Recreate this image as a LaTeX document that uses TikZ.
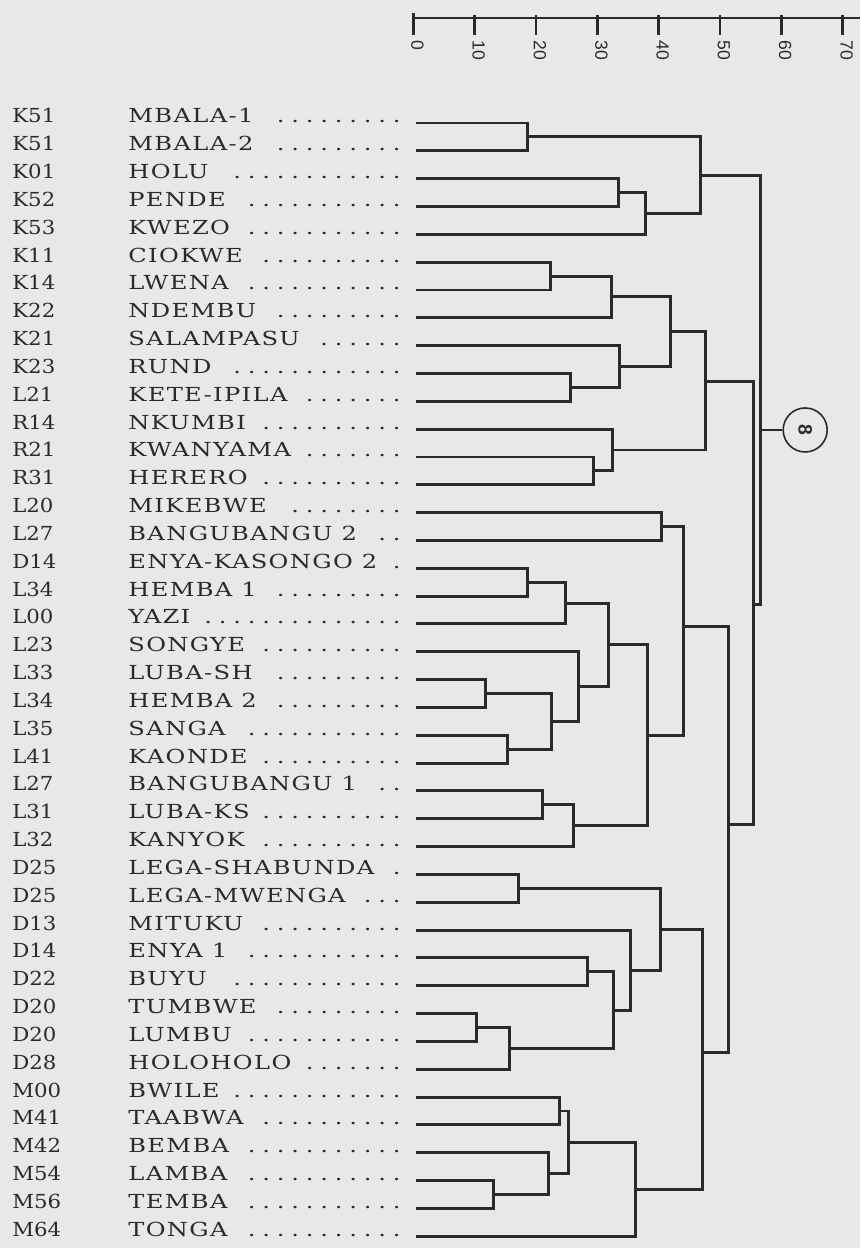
\documentclass[tikz,border=0pt]{standalone}
\usepackage{fontspec}
\usepackage{tikz}
\usetikzlibrary{calc}
\newfontfamily\tribefont[FakeStretch=1.25,LetterSpace=7]{DejaVu Serif}
\newfontfamily\codefont[FakeStretch=1.1]{DejaVu Serif}
\newfontfamily\scalefont{Liberation Sans}
\definecolor{paper}{HTML}{E8E8E8}
\definecolor{ink}{HTML}{2A2A2A}
\newcommand\dotlead{\leaders\hbox to 0.29cm{\hss.\hss}\hfill}

\begin{document}
\begin{tikzpicture}[x=0.02cm, y=-0.5566cm,
        every node/.style={inner sep=0pt, text=ink},
        link/.style={draw=ink, line width=1.65pt},
        tk/.style={draw=ink, line width=1.65pt},
        codelbl/.style={anchor=base west, font=\codefont\fontsize{11}{13}\selectfont},
        tribe/.style={anchor=base west, font=\tribefont\fontsize{11}{13}\selectfont},
        scl/.style={anchor=west, rotate=-90, font=\scalefont\fontsize{10}{12}\selectfont},
        ring/.style={circle, draw=ink, line width=0.9pt, minimum size=0.88cm, rotate=-90,
                font=\scalefont\bfseries\fontsize{11}{13}\selectfont}
    ]
    \path[use as bounding box, fill=paper] (0,-3.4197) rectangle (860,41.4236);

    % ================= skala (0 -- 70) =================
    \coordinate (ax0) at (413.3,-2.773);
    \coordinate (ax1) at (860,-2.773);
    \draw[link] (ax0) -- (ax1);
    \draw[tk] (ax0) ++(0,-0.19) -- ++(0,0.80);
    \foreach \k in {1,...,7} {
        \coordinate (t\k) at ({413.3+61.3*\k},-2.88);
        \draw[tk] (t\k) -- ++(0,0.72);
    }
    \foreach \k in {0,...,7} {
        \node[scl] (s\k) at ({417.3+61.3*\k},-1.98) {\the\numexpr 10*\k\relax};
    }

    % ================= daun: kode, nama, garis =================
    \foreach \kc/\nm [count=\i] in {K51/MBALA-1, K51/MBALA-2, K01/HOLU, K52/PENDE,
            K53/KWEZO, K11/CIOKWE, K14/LWENA, K22/NDEMBU, K21/SALAMPASU, K23/RUND,
            L21/KETE-IPILA, R14/NKUMBI, R21/KWANYAMA, R31/HERERO, L20/MIKEBWE,
            L27/BANGUBANGU 2, D14/ENYA-KASONGO 2, L34/HEMBA 1, L00/YAZI, L23/SONGYE,
            L33/LUBA-SH, L34/HEMBA 2, L35/SANGA, L41/KAONDE, L27/BANGUBANGU 1,
            L31/LUBA-KS, L32/KANYOK, D25/LEGA-SHABUNDA, D25/LEGA-MWENGA, D13/MITUKU,
            D14/ENYA 1, D22/BUYU, D20/TUMBWE, D20/LUMBU, D28/HOLOHOLO, M00/BWILE,
            M41/TAABWA, M42/BEMBA, M54/LAMBA, M56/TEMBA, M64/TONGA} {
        \node[codelbl] (k\i) at (12,\i) {\kc};
        \node[tribe] (n\i) at (128,\i) {\hbox to 5.52cm{\nm\ \dotlead}};
        \coordinate (l\i) at (416,\i);
    }

    % ================= titik gabung =================
    \coordinate (a1) at (527,1.5);    \coordinate (a2) at (618,3.5);
    \coordinate (a3) at (645,4.25);   \coordinate (a4) at (700,2.875);
    \coordinate (b1) at (550,6.5);    \coordinate (b2) at (611,7.25);
    \coordinate (b3) at (570,10.5);   \coordinate (b4) at (619,9.75);
    \coordinate (b5) at (670,8.5);    \coordinate (b6) at (593,13.5);
    \coordinate (b7) at (612,12.75);  \coordinate (b8) at (705,10.3);
    \coordinate (c1) at (661,15.5);   \coordinate (c2) at (527,17.5);
    \coordinate (c3) at (565,18.25);  \coordinate (c4) at (485,21.5);
    \coordinate (c5) at (507,23.5);   \coordinate (c6) at (551,22.5);
    \coordinate (c7) at (578,21.25);  \coordinate (c8) at (608,19.75);
    \coordinate (c9) at (542,25.5);   \coordinate (c10) at (573,26.25);
    \coordinate (c11) at (647,23);    \coordinate (c12) at (683,19.1);
    \coordinate (d1) at (518,28.5);   \coordinate (d2) at (587,31.5);
    \coordinate (d3) at (476,33.5);   \coordinate (d4) at (509,34.25);
    \coordinate (d5) at (613,32.875); \coordinate (d6) at (630,31.44);
    \coordinate (d7) at (660,29.97);
    \coordinate (e1) at (559,36.5);   \coordinate (e2) at (493,39.5);
    \coordinate (e3) at (548,38.75);  \coordinate (e4) at (568,37.63);
    \coordinate (e5) at (635,39.31);  \coordinate (e6) at (702,34.4);
    \coordinate (c13) at (728,26.2);  \coordinate (bc) at (753,18.3);
    \coordinate (root) at (760,12.03);
    \node[ring] (circ) at (805,12.03) {8};

    % ================= kelompok K =================
    \draw[link] (l1) -| (a1) |- (l2);
    \draw[link] (l3) -| (a2) |- (l4);
    \draw[link] (a2) -| (a3) |- (l5);
    \draw[link] (a1) -| (a4) |- (a3);

    % ================= kelompok K/L/R =================
    \draw[link] (l6) -| (b1) |- (l7);
    \draw[link] (b1) -| (b2) |- (l8);
    \draw[link] (l10) -| (b3) |- (l11);
    \draw[link] (l9) -| (b4) |- (b3);
    \draw[link] (b2) -| (b5) |- (b4);
    \draw[link] (l13) -| (b6) |- (l14);
    \draw[link] (l12) -| (b7) |- (b6);
    \draw[link] (b5) -| (b8) |- (b7);

    % ================= kelompok L =================
    \draw[link] (l15) -| (c1) |- (l16);
    \draw[link] (l17) -| (c2) |- (l18);
    \draw[link] (c2) -| (c3) |- (l19);
    \draw[link] (l21) -| (c4) |- (l22);
    \draw[link] (l23) -| (c5) |- (l24);
    \draw[link] (c4) -| (c6) |- (c5);
    \draw[link] (l20) -| (c7) |- (c6);
    \draw[link] (c3) -| (c8) |- (c7);
    \draw[link] (l25) -| (c9) |- (l26);
    \draw[link] (c9) -| (c10) |- (l27);
    \draw[link] (c8) -| (c11) |- (c10);
    \draw[link] (c1) -| (c12) |- (c11);

    % ================= kelompok D dan M =================
    \draw[link] (l28) -| (d1) |- (l29);
    \draw[link] (l31) -| (d2) |- (l32);
    \draw[link] (l33) -| (d3) |- (l34);
    \draw[link] (d3) -| (d4) |- (l35);
    \draw[link] (d2) -| (d5) |- (d4);
    \draw[link] (l30) -| (d6) |- (d5);
    \draw[link] (d1) -| (d7) |- (d6);
    \draw[link] (l36) -| (e1) |- (l37);
    \draw[link] (l39) -| (e2) |- (l40);
    \draw[link] (l38) -| (e3) |- (e2);
    \draw[link] (e1) -| (e4) |- (e3);
    \draw[link] (e4) -| (e5) |- (l41);
    \draw[link] (d7) -| (e6) |- (e5);

    % ================= akar =================
    \draw[link] (c12) -| (c13) |- (e6);
    \draw[link] (b8) -| (bc) |- (c13);
    \draw[link] (a4) -| (root) |- (bc);
    \draw[link] (root) -- (circ);

\end{tikzpicture}
\end{document}
